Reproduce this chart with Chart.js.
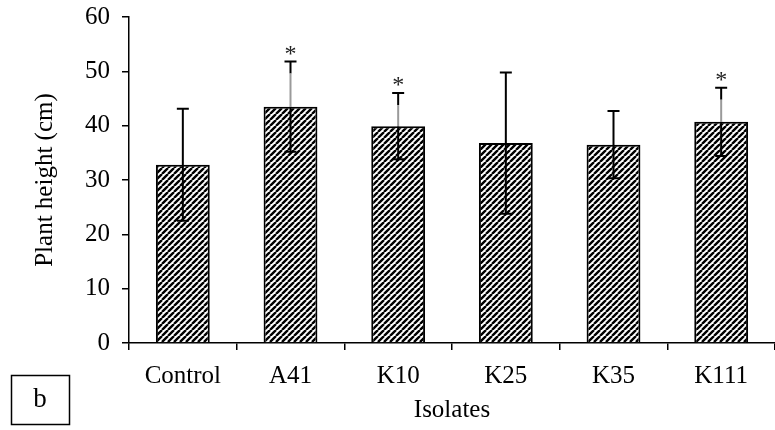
<!DOCTYPE html>
<html>
<head>
<meta charset="utf-8">
<script src="https://cdn.jsdelivr.net/npm/chart.js@4.4.1/dist/chart.umd.min.js"></script>
<style>
    html, body { margin: 0; padding: 0; background: #fff; }
    #wrap { width: 775px; height: 430px; position: relative; }
</style>
</head>
<body>
<div id="wrap"><canvas id="heightChart" width="775" height="430"></canvas></div>
<script>
// data
const isolates = ['Control', 'A41', 'K10', 'K25', 'K35', 'K111'];
const meanHeight = [32.8, 43.5, 39.9, 36.8, 36.5, 40.7];
const sdHeight = [10.3, 8.3, 6.1, 13.0, 6.2, 6.3];
const signif = ['', '*', '*', '', '', '*'];
const yTicks = [0, 10, 20, 30, 40, 50, 60];

const serif = '"Liberation Serif", "Times New Roman", serif';

function hatchPattern() {
    const size = 6;
    const c = document.createElement('canvas');
    c.width = size;
    c.height = size;
    const g = c.getContext('2d');
    g.fillStyle = '#fff';
    g.fillRect(0, 0, size, size);
    g.strokeStyle = '#000';
    g.lineWidth = 2.4;
    g.beginPath();
    // "/" stripes, repeated across tile edges
    for (let k = -1; k <= 1; k++) {
        g.moveTo(k * size, size);
        g.lineTo(k * size + size, 0);
    }
    g.stroke();
    const ctx = document.getElementById('heightChart').getContext('2d');
    return ctx.createPattern(c, 'repeat');
}

const errorBars = {
    id: 'errorBars',
    afterDatasetsDraw(chart) {
        const ctx = chart.ctx;
        const y = chart.scales.y;
        const meta = chart.getDatasetMeta(0);
        ctx.save();
        ctx.lineWidth = 2;
        meta.data.forEach((bar, i) => {
            const top = y.getPixelForValue(meanHeight[i] + sdHeight[i]);
            const bot = y.getPixelForValue(meanHeight[i] - sdHeight[i]);
            const x = bar.x;
            ctx.strokeStyle = '#000';
            ctx.beginPath();
            if (signif[i]) {
                // the part above the bar shows grey in the figure
                ctx.moveTo(x, top);
                ctx.lineTo(x, top + 12);
                ctx.moveTo(x, bar.y);
                ctx.lineTo(x, bot);
            } else {
                ctx.moveTo(x, top);
                ctx.lineTo(x, bot);
            }
            ctx.moveTo(x - 6, top);
            ctx.lineTo(x + 6, top);
            ctx.moveTo(x - 6, bot);
            ctx.lineTo(x + 6, bot);
            ctx.stroke();
            if (signif[i]) {
                ctx.strokeStyle = '#9a9a9a';
                ctx.beginPath();
                ctx.moveTo(x, top + 12);
                ctx.lineTo(x, bar.y);
                ctx.stroke();
                ctx.fillStyle = '#222';
                ctx.font = '24px ' + serif;
                ctx.textAlign = 'center';
                ctx.textBaseline = 'middle';
                ctx.fillText(signif[i], x, top - 7);
            }
        });
        ctx.restore();
    }
};

const panelLabel = {
    id: 'panelLabel',
    afterDraw(chart) {
        const ctx = chart.ctx;
        ctx.save();
        ctx.strokeStyle = '#000';
        ctx.lineWidth = 1.5;
        ctx.strokeRect(11.5, 375.5, 58, 49);
        ctx.fillStyle = '#000';
        ctx.font = '27px ' + serif;
        ctx.textAlign = 'center';
        ctx.textBaseline = 'middle';
        ctx.fillText('b', 40, 400);
        ctx.restore();
    }
};

new Chart(document.getElementById('heightChart'), {
    type: 'bar',
    data: {
        labels: isolates,
        datasets: [{
            data: meanHeight,
            backgroundColor: hatchPattern(),
            borderColor: '#000',
            borderWidth: 2,
            categoryPercentage: 1,
            barPercentage: 0.5
        }]
    },
    options: {
        responsive: false,
        animation: false,
        devicePixelRatio: 1,
        layout: { padding: { top: 17, right: 0, left: 0, bottom: 0 } },
        plugins: {
            legend: { display: false },
            tooltip: { enabled: false }
        },
        scales: {
            x: {
                grid: { drawOnChartArea: false, drawTicks: true, tickLength: 7, color: '#000', lineWidth: 1.5 },
                border: { color: '#000', width: 1.5 },
                ticks: { color: '#000', font: { family: serif, size: 25 }, padding: 11, maxRotation: 0 },
                title: { display: true, text: 'Isolates', color: '#000', font: { family: serif, size: 25 }, padding: { top: 0, bottom: 5 } },
                afterFit(scale) {
                    scale.height = 87;
                    scale.paddingLeft = 0;
                    scale.paddingRight = 0;
                }
            },
            y: {
                min: 0,
                max: 60,
                afterBuildTicks(scale) { scale.ticks = yTicks.map(v => ({ value: v })); },
                grid: { drawOnChartArea: false, drawTicks: true, tickLength: 7, color: '#000', lineWidth: 1.5 },
                border: { color: '#000', width: 1.5 },
                ticks: { color: '#000', font: { family: serif, size: 25 }, padding: 12 },
                title: { display: true, text: 'Plant height (cm)', color: '#000', font: { family: serif, size: 25 }, padding: { top: 30, bottom: 0 } },
                afterFit(scale) {
                    scale.width = 129;
                    scale.paddingTop = 0;
                    scale.paddingBottom = 0;
                }
            }
        }
    },
    plugins: [errorBars, panelLabel]
});
</script>
</body>
</html>
